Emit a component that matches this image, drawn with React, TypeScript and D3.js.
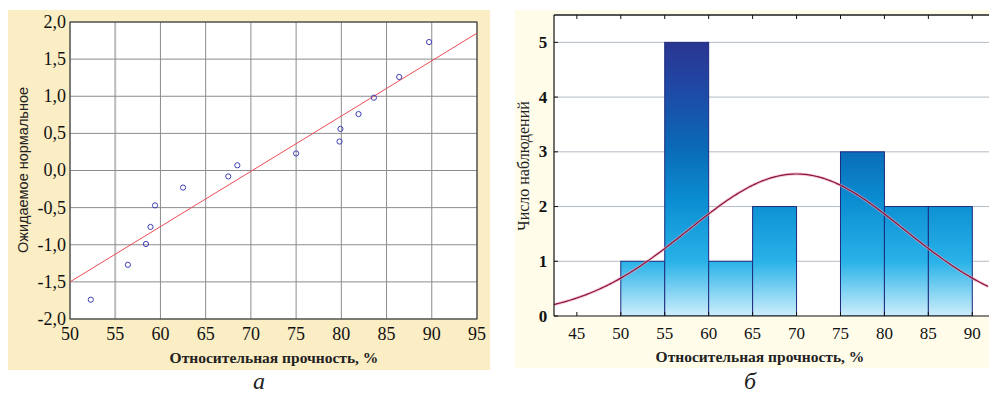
import React from 'react';
import * as d3 from 'd3';

// left panel: normal probability plot
const strength = [52.3, 56.4, 58.4, 58.9, 59.4, 62.5, 67.5, 68.5, 75.0, 79.8, 79.9, 81.9, 83.6, 86.4, 89.7];
const expectedNormal = [-1.74, -1.27, -0.99, -0.76, -0.47, -0.23, -0.08, 0.07, 0.23, 0.39, 0.56, 0.76, 0.98, 1.26, 1.73];
const fitLine = [[50, -1.5], [95, 1.85]];
const leftXTicks = [50, 55, 60, 65, 70, 75, 80, 85, 90, 95];
const leftYTicks = [-2, -1.5, -1, -0.5, 0, 0.5, 1, 1.5, 2];

// right panel: histogram
const binStart = [50, 55, 60, 65, 70, 75, 80, 85];
const binCount = [1, 5, 1, 2, 0, 3, 2, 2];
const binWidth = 5;
const fitMean = 70;
const fitSd = 12.3;
const sampleSize = 16;
const rightXTicks = [45, 50, 55, 60, 65, 70, 75, 80, 85, 90];
const rightYTicks = [0, 1, 2, 3, 4, 5];

const serif = "'Liberation Serif', 'Times New Roman', serif";
const sans = "'Liberation Sans', Arial, sans-serif";

const fmt = (v: number) => (v === 0 ? '0,0' : d3.format('.1f')(v).replace('.', ',').replace('−', '-'));

export default function App() {
  const W = 989, H = 396;

  const lx = d3.scaleLinear().domain([50, 95]).range([70, 477]);
  const ly = d3.scaleLinear().domain([-2, 2]).range([319, 22]);
  const line = d3.line<number[]>().x(d => lx(d[0])).y(d => ly(d[1]));

  const rx = d3.scaleLinear().domain([42.4, 91.9]).range([554, 989]);
  const ry = d3.scaleLinear().domain([0, 5.5]).range([316, 15]);
  const curveX = d3.range(42.4, 92, 0.2);
  const normal = (x: number) =>
    sampleSize * binWidth * Math.exp(-((x - fitMean) ** 2) / (2 * fitSd * fitSd)) / (fitSd * Math.sqrt(2 * Math.PI));
  const curve = d3.line<number>().x(d => rx(d)).y(d => ry(normal(d))).curve(d3.curveBasis);

  const serifStyle = { fontFamily: serif };

  return (
    <svg width={W} height={H} style={{ position: 'absolute', left: 0, top: 0 }}>
      <defs>
        <linearGradient id="barGrad" gradientUnits="userSpaceOnUse" x1="0" y1={ry(0)} x2="0" y2={ry(5)}>
          <stop offset="0" stopColor="#cdeefb" />
          <stop offset="0.2" stopColor="#28b2e8" />
          <stop offset="0.42" stopColor="#0b8ed2" />
          <stop offset="0.62" stopColor="#0a69b6" />
          <stop offset="0.82" stopColor="#1e4aa6" />
          <stop offset="1" stopColor="#2a3592" />
        </linearGradient>
        <clipPath id="rclip">
          <rect x={554} y={15} width={W - 554} height={301} />
        </clipPath>
      </defs>
      <rect width={W} height={H} fill="#fff" />

      {/* left panel */}
      <rect x={8} y={10} width={482} height={360} fill="#fbedc4" />
      <rect x={70} y={22} width={407} height={297} fill="#fff" />
      {leftXTicks.map(t => (
        <line key={'lgx' + t} x1={lx(t)} x2={lx(t)} y1={22} y2={319} stroke={t === 55 ? '#bbb' : '#8c8c8c'} strokeWidth={t === 55 ? 2 : 1} />
      ))}
      {leftYTicks.map(t => (
        <line key={'lgy' + t} x1={70} x2={477} y1={ly(t)} y2={ly(t)} stroke="#8c8c8c" />
      ))}
      <rect x={70} y={22} width={407} height={297} fill="none" stroke="#333" strokeWidth={1} />
      <path d={line(fitLine) || ''} stroke="#ec4d55" strokeWidth={1} fill="none" />
      {strength.map((s, i) => (
        <circle key={'pt' + i} cx={lx(s)} cy={ly(expectedNormal[i])} r={2.6} fill="none" stroke="#3f3fb4" strokeWidth={1} />
      ))}
      <g style={serifStyle} fill="#111" fontSize={18}>
        {leftYTicks.map(t => (
          <text key={'lyt' + t} x={66} y={ly(t)} dy="0.33em" textAnchor="end">
            {fmt(t)}
          </text>
        ))}
        {leftXTicks.map(t => (
          <text key={'lxt' + t} x={lx(t)} y={334} dy="0.33em" textAnchor="middle">
            {t}
          </text>
        ))}
        <text x={274} y={358} dy="0.33em" textAnchor="middle" fontSize={15.5} fontWeight="bold" fill="#222">
          Относительная прочность, %
        </text>
        <text x={259} y={389} textAnchor="middle" fontStyle="italic" fontSize={24} fill="#222">
          а
        </text>
      </g>
      <text transform={`translate(23,170) rotate(-90)`} dy="0.35em" textAnchor="middle" style={{ fontFamily: sans }} fontSize={14.5} fill="#222">
        Ожидаемое нормальное
      </text>

      {/* right panel */}
      <rect x={515} y={10} width={W - 515} height={358} fill="#fffcea" />
      <rect x={554} y={15} width={W - 554} height={301} fill="#fff" />
      {rightYTicks.filter(t => t > 0).map(t => (
        <line key={'rgy' + t} x1={554} x2={W} y1={ry(t)} y2={ry(t)} stroke="#b4bcc4" strokeWidth={1} />
      ))}
      <g clipPath="url(#rclip)">
        {binStart.map((b, i) =>
          binCount[i] > 0 ? (
            <rect key={'bar' + b} x={rx(b)} y={ry(binCount[i])} width={rx(b + binWidth) - rx(b)} height={ry(0) - ry(binCount[i])}
              fill="url(#barGrad)" stroke="#1d2b7e" strokeWidth={1} />
          ) : null
        )}
        <path d={curve(curveX) || ''} stroke="#f0a0bc" strokeWidth={3} fill="none" opacity={0.6} />
        <path d={curve(curveX) || ''} stroke="#8a1538" strokeWidth={1.2} fill="none" />
      </g>
      <line x1={554} x2={W} y1={15} y2={15} stroke="#555" strokeWidth={2} />
      <line x1={554} x2={554} y1={15} y2={316} stroke="#111" strokeWidth={1.2} />
      <line x1={554} x2={W} y1={316} y2={316} stroke="#111" strokeWidth={1.2} />
      <g style={serifStyle} fill="#111" fontSize={17}>
        {rightXTicks.map(t => (
          <g key={'rtk' + t}>
            <line x1={rx(t)} x2={rx(t)} y1={15} y2={19} stroke="#111" />
            <line x1={rx(t)} x2={rx(t)} y1={316} y2={312} stroke="#111" />
            <text x={rx(t)} y={333} dy="0.33em" textAnchor="middle">
              {t}
            </text>
          </g>
        ))}
        {rightYTicks.map(t => (
          <g key={'rty' + t}>
            <line x1={554} x2={558} y1={ry(t)} y2={ry(t)} stroke="#111" />
            <text x={543} y={ry(t)} dy="0.33em" textAnchor="middle" fontWeight="bold">
              {t}
            </text>
          </g>
        ))}
        <text x={760} y={357} dy="0.33em" textAnchor="middle" fontSize={15.5} fontWeight="bold" fill="#222">
          Относительная прочность, %
        </text>
        <text transform={`translate(523,166) rotate(-90)`} dy="0.35em" textAnchor="middle" fontSize={16} fill="#222">
          Число наблюдений
        </text>
        <text x={750} y={389} textAnchor="middle" fontStyle="italic" fontSize={24} fill="#222">
          б
        </text>
      </g>
    </svg>
  );
}
